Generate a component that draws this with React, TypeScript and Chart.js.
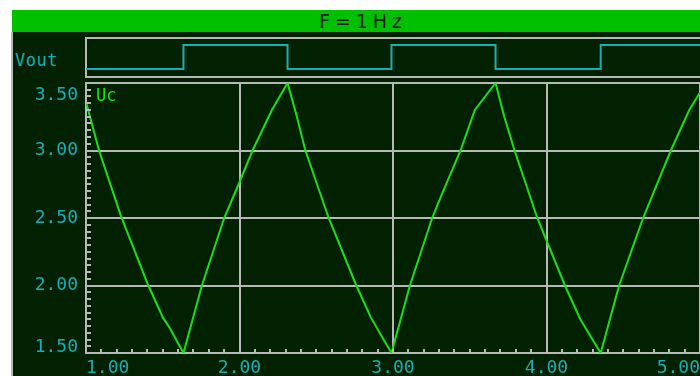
import React, { useEffect, useRef } from "react";
import { Chart, registerables } from "chart.js";

Chart.register(...registerables);

// ---- data ----
const titleText = "F=1Hz";
const seriesName = "Uc";
const voutName = "Vout";

const ucTimes = [
  1.0, 1.085, 1.226, 1.406, 1.502, 1.543, 1.635,
  1.755, 1.9, 1.994, 2.085, 2.211, 2.313,
  2.374, 2.429, 2.581, 2.761, 2.857, 2.99,
  3.11, 3.255, 3.316, 3.44, 3.533, 3.668,
  3.725, 3.792, 3.94, 4.12, 4.22, 4.353,
  4.473, 4.629, 4.81, 4.93, 5.0,
];
const ucValues = [
  3.36, 3.0, 2.52, 2.0, 1.76, 1.69, 1.5,
  2.0, 2.5, 2.75, 3.0, 3.3, 3.5,
  3.25, 3.0, 2.5, 2.0, 1.76, 1.5,
  2.0, 2.5, 2.67, 3.0, 3.3, 3.5,
  3.25, 3.0, 2.5, 2.0, 1.75, 1.5,
  2.0, 2.5, 3.0, 3.3, 3.43,
];

const voutTimes = [1.0, 1.635, 2.313, 2.99, 3.668, 4.353, 5.0];
const voutLevels = [0, 1, 0, 1, 0, 1, 1];

const xTickLabels = ["1.00", "2.00", "3.00", "4.00", "5.00"];
const yTickValues = [1.5, 2.0, 2.5, 3.0, 3.5];
const yTickLabels = ["1.50", "2.00", "2.50", "3.00", "3.50"];

// ---- styles ----
const BG = "#012101";
const GRID = "#b8b8b8";
const CYAN = "#17adb9";
const GREEN = "#16e016";
const BAR = "#00c000";
const MONO = "'DejaVu Sans Mono', monospace";

const mainPlugin = {
  id: "scopeDecor",
  afterDraw(chart: any) {
    const { ctx, chartArea, scales } = chart;
    const xs = scales.x;
    const ys = scales.y;
    ctx.save();
    // minor ticks on the y axis (every 0.05)
    ctx.strokeStyle = GRID;
    ctx.lineWidth = 2;
    ctx.beginPath();
    for (let i = 0; i <= 40; i++) {
      const v = 1.5 + i * 0.05;
      const py = Math.round(ys.getPixelForValue(v));
      ctx.moveTo(chartArea.left, py);
      ctx.lineTo(chartArea.left + 5, py);
    }
    // minor ticks on the x axis (every 0.1)
    for (let i = 0; i <= 40; i++) {
      const v = 1 + i * 0.1;
      const px = Math.round(xs.getPixelForValue(v));
      ctx.moveTo(px, chartArea.bottom);
      ctx.lineTo(px, chartArea.bottom - 4);
    }
    ctx.stroke();
    // y tick labels (clamped inside the plot height)
    ctx.fillStyle = CYAN;
    ctx.font = `18px ${MONO}`;
    ctx.textAlign = "right";
    ctx.textBaseline = "middle";
    yTickValues.forEach((v, i) => {
      let py = ys.getPixelForValue(v);
      py = Math.max(chartArea.top + 12, Math.min(chartArea.bottom - 6, py));
      ctx.fillText(yTickLabels[i], chartArea.left - 8, py);
    });
    ctx.restore();
  },
};

export default function App() {
  const mainRef = useRef<HTMLCanvasElement | null>(null);
  const voutRef = useRef<HTMLCanvasElement | null>(null);

  useEffect(() => {
    const main = new Chart(mainRef.current as HTMLCanvasElement, {
      type: "line",
      data: {
        datasets: [
          {
            label: seriesName,
            data: ucTimes.map((t, i) => ({ x: t, y: ucValues[i] })),
            borderColor: GREEN,
            borderWidth: 2,
            pointRadius: 0,
            tension: 0,
            fill: false,
          },
        ],
      },
      options: {
        animation: false,
        responsive: false,
        maintainAspectRatio: false,
        layout: { padding: { left: 12, top: 83, right: 0, bottom: 0 } },
        plugins: { legend: { display: false }, tooltip: { enabled: false } },
        scales: {
          x: {
            type: "linear",
            min: 1,
            max: 5,
            afterFit: (s: any) => {
              s.height = 23;
              s.paddingLeft = 0;
              s.paddingRight = 0;
            },
            ticks: {
              stepSize: 1,
              align: "inner",
              padding: 5,
              maxRotation: 0,
              autoSkip: false,
              color: CYAN,
              font: { family: MONO, size: 18 },
              callback: (_v: any, i: number) => xTickLabels[i],
            },
            grid: { color: GRID, lineWidth: 2, drawTicks: false },
            border: { color: GRID, width: 2 },
          },
          y: {
            type: "linear",
            min: 1.5,
            max: 3.5,
            afterFit: (s: any) => {
              s.width = 74;
              s.paddingTop = 0;
              s.paddingBottom = 0;
            },
            ticks: { stepSize: 0.5, display: false },
            grid: { color: GRID, lineWidth: 2, drawTicks: false },
            border: { color: GRID, width: 2 },
          },
        },
      },
      plugins: [mainPlugin],
    } as any);

    const vout = new Chart(voutRef.current as HTMLCanvasElement, {
      type: "line",
      data: {
        datasets: [
          {
            label: voutName,
            data: voutTimes.map((t, i) => ({ x: t, y: voutLevels[i] })),
            borderColor: CYAN,
            borderWidth: 2,
            pointRadius: 0,
            stepped: true,
            fill: false,
          },
        ],
      },
      options: {
        animation: false,
        responsive: false,
        maintainAspectRatio: false,
        layout: { padding: 0 },
        plugins: { legend: { display: false }, tooltip: { enabled: false } },
        scales: {
          x: { type: "linear", min: 1, max: 5, display: false },
          y: { type: "linear", min: -10 / 24, max: 1 + 8 / 24, display: false },
        },
      },
    } as any);

    return () => {
      main.destroy();
      vout.destroy();
    };
  }, []);

  const abs = (s: React.CSSProperties): React.CSSProperties => ({ position: "absolute", ...s });

  return (
    <div style={{ position: "fixed", left: 0, top: 0, width: 700, height: 376, background: "#ffffff", overflow: "hidden" }}>
      <div style={abs({ left: 12, top: 10, width: 688, height: 366, background: BG })} />
      <div style={abs({ left: 11, top: 32, width: 2, height: 344, background: GRID })} />
      <div
        style={abs({
          left: 12, top: 10, width: 688, height: 22, background: BAR,
          color: "#012101", font: `19px 'DejaVu Sans', sans-serif`, lineHeight: "22px",
          textAlign: "center", letterSpacing: "5px", paddingLeft: 14, boxSizing: "border-box",
        })}
      >
        {titleText}
      </div>
      {/* Vout panel frame */}
      <div style={abs({ left: 85, top: 37, width: 615, height: 2, background: GRID })} />
      <div style={abs({ left: 85, top: 76, width: 615, height: 2, background: GRID })} />
      <div style={abs({ left: 85, top: 37, width: 2, height: 41, background: GRID })} />
      <div style={abs({ left: 15, top: 49, color: CYAN, font: `17px ${MONO}`, lineHeight: "22px", letterSpacing: "0.5px" })}>
        {voutName}
      </div>
      <canvas ref={voutRef} width={614} height={42} style={abs({ left: 86, top: 37, display: "block" })} />
      <canvas ref={mainRef} width={700} height={376} style={abs({ left: 0, top: 0, display: "block" })} />
      <div style={abs({ left: 96, top: 84, color: GREEN, font: `17px ${MONO}`, lineHeight: "22px" })}>{seriesName}</div>
    </div>
  );
}
